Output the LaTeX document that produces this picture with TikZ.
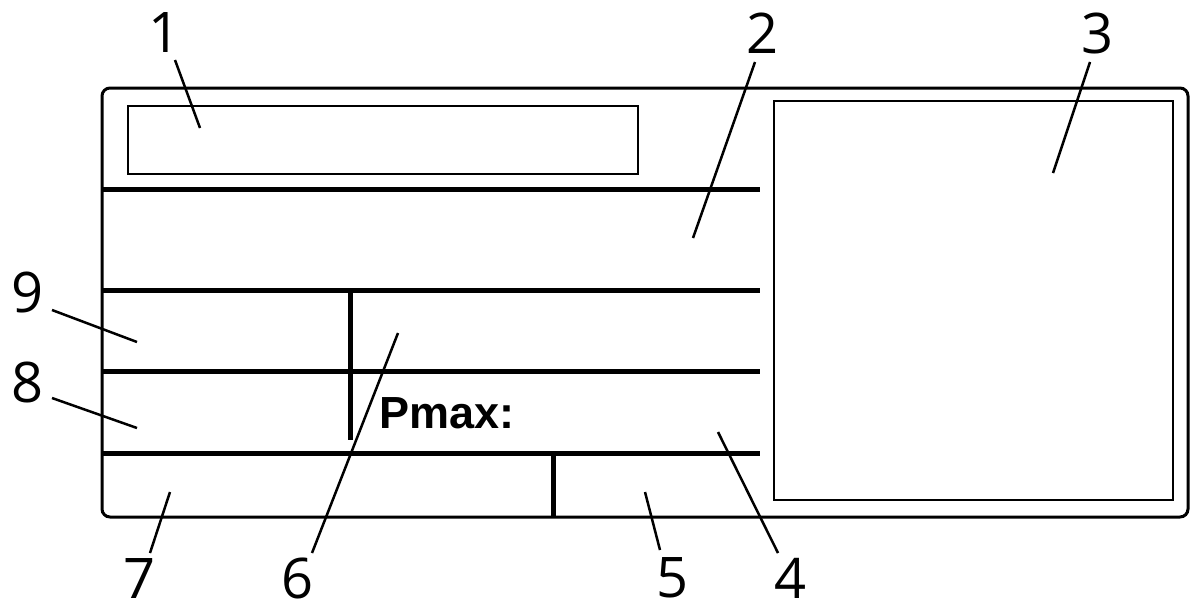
\documentclass[tikz,border=0pt]{standalone}
\usepackage{fontspec}
\setmainfont{Open Sans}
\newfontfamily\pfont{Liberation Sans}
\begin{document}
\begin{tikzpicture}[x=1pt,y=-1pt,
  thick line/.style={line width=5pt},
  leader/.style={line width=2.5pt},
  num/.style={font=\fontsize{56}{56}\selectfont,inner sep=0pt}]
\useasboundingbox (0,0) rectangle (1198,606);
\draw[line width=3pt,rounded corners=8pt] (102,88) rectangle (1188,517);
\draw[line width=2pt] (128,106) rectangle (638,174);
\draw[line width=2.5pt] (774,101) rectangle (1173,500);
\foreach \y in {189,290,371,453} \draw[thick line] (102,\y) -- (760,\y);
\draw[thick line] (350,290) -- (350,440);
\draw[thick line] (553,453) -- (553,517);
\node[font=\pfont\bfseries\fontsize{45}{45}\selectfont] (p) at (447,413) {Pmax:};
\node[num] (n1) at (165,33) {1};
\node[num] (n2) at (762,33) {2};
\node[num] (n3) at (1097,33) {3};
\node[num] (n9) at (28,292) {9};
\node[num] (n8) at (28,382) {8};
\node[num] (n7) at (140,578) {7};
\node[num] (n6) at (298,578) {6};
\node[num] (n5) at (672,578) {5};
\node[num] (n4) at (790,578) {4};
\coordinate (e1) at (200,128); \coordinate (e2) at (693,238);
\coordinate (e3) at (1053,173); \coordinate (e9) at (137,342);
\coordinate (e8) at (137,428); \coordinate (e7) at (170,492);
\coordinate (e6) at (398,333); \coordinate (e5) at (645,492);
\coordinate (e4) at (718,432);
\draw[leader] (175,60) -- (e1);
\draw[leader] (755,62) -- (e2);
\draw[leader] (1090,62) -- (e3);
\draw[leader] (52,310) -- (e9);
\draw[leader] (52,398) -- (e8);
\draw[leader] (150,553) -- (e7);
\draw[leader] (312,553) -- (e6);
\draw[leader] (660,550) -- (e5);
\draw[leader] (778,553) -- (e4);
\end{tikzpicture}
\end{document}
